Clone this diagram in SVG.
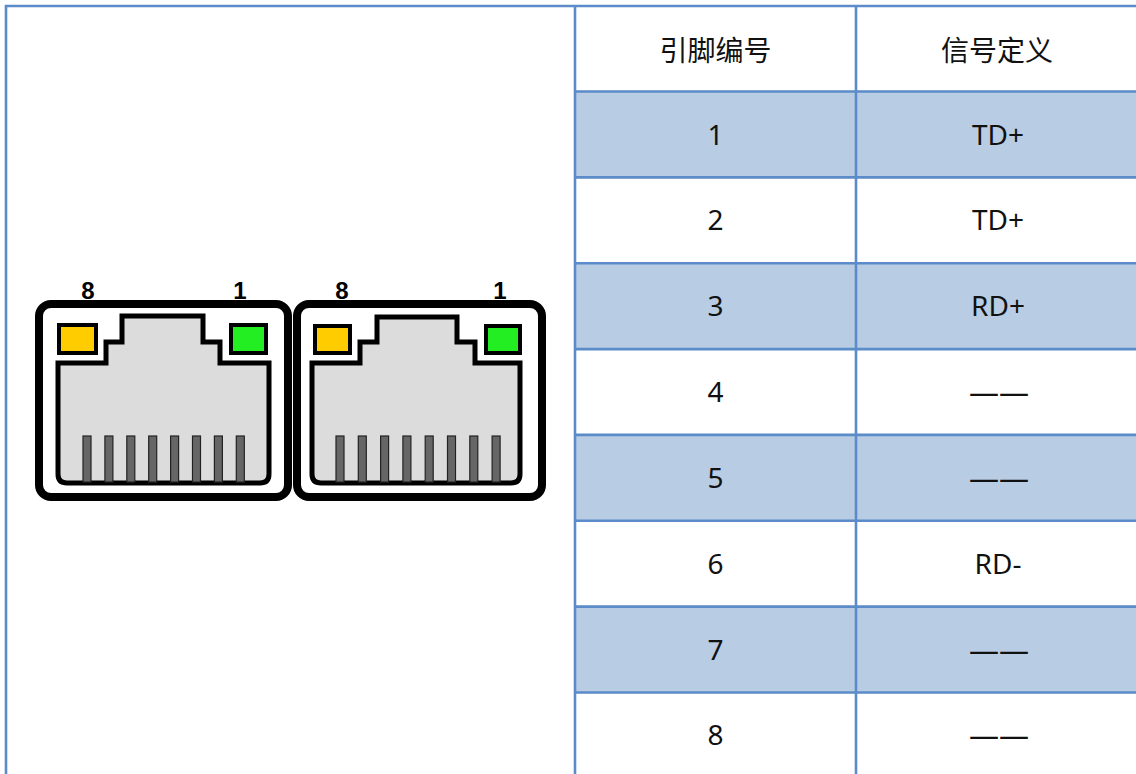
<svg xmlns="http://www.w3.org/2000/svg" width="1136" height="774" viewBox="0 0 1136 774">
<style>
.grid{stroke:#5b8bc8;stroke-width:2.6;fill:none}
.band{fill:#b8cce4}
.t{font-family:"Noto Sans","Noto Sans CJK SC",sans-serif;font-size:28px;fill:#111;text-anchor:middle}
.pn{font-family:"Liberation Sans",Arial,sans-serif;font-weight:bold;font-size:24px;fill:#000;text-anchor:middle}
.shell{fill:#fff;stroke:#000;stroke-width:8}
.body{fill:#dcdcdc;stroke:#000;stroke-width:5;stroke-linejoin:miter}
.ly{fill:#ffcc00;stroke:#000;stroke-width:4}
.lg{fill:#22ee22;stroke:#000;stroke-width:4}
.pin{fill:#666;stroke:#222;stroke-width:1.2}
</style>
<rect width="1136" height="774" fill="#fff"/>
<g id="table">
<rect class="band" x="575" y="91.5" width="561" height="85.9"/>
<rect class="band" x="575" y="263.2" width="561" height="85.9"/>
<rect class="band" x="575" y="434.9" width="561" height="85.9"/>
<rect class="band" x="575" y="606.6" width="561" height="85.9"/>
<path class="grid" d="M4.7 6H1136M6 4.7V774M575 6V774M856 6V774M575 91.5H1136M575 177.4H1136M575 263.2H1136M575 349.1H1136M575 434.9H1136M575 520.8H1136M575 606.6H1136M575 692.5H1136"/>
<text class="t" x="715.5" y="61">引脚编号</text>
<text class="t" x="997" y="61">信号定义</text>
<text class="t" x="715.5" y="144.5">1</text><text class="t" x="998" y="144.5">TD+</text>
<text class="t" x="715.5" y="230.3">2</text><text class="t" x="998" y="230.3">TD+</text>
<text class="t" x="715.5" y="316.2">3</text><text class="t" x="998" y="316.2">RD+</text>
<text class="t" x="715.5" y="402">4</text><text class="t" x="999" y="402" textLength="60" lengthAdjust="spacingAndGlyphs">——</text>
<text class="t" x="715.5" y="487.9">5</text><text class="t" x="999" y="487.9" textLength="60" lengthAdjust="spacingAndGlyphs">——</text>
<text class="t" x="715.5" y="573.7">6</text><text class="t" x="998" y="573.7">RD-</text>
<text class="t" x="715.5" y="659.6">7</text><text class="t" x="999" y="659.6" textLength="60" lengthAdjust="spacingAndGlyphs">——</text>
<text class="t" x="715.5" y="745.4">8</text><text class="t" x="999" y="745.4" textLength="60" lengthAdjust="spacingAndGlyphs">——</text>
</g>
<g id="rj45-1">
<text class="pn" x="88" y="299">8</text>
<text class="pn" x="240" y="299">1</text>
<rect class="shell" x="39" y="304" width="249" height="193" rx="12"/>
<path class="body" d="M58 363H106V342H122V316H203V342H220V363H269V474Q269 483 260 483H67Q58 483 58 474Z"/>
<rect class="ly" x="59" y="325" width="37" height="28"/>
<rect class="lg" x="231" y="325" width="35" height="28"/>
<rect class="pin" x="83" y="436" width="8" height="46"/>
<rect class="pin" x="104.9" y="436" width="8" height="46"/>
<rect class="pin" x="126.8" y="436" width="8" height="46"/>
<rect class="pin" x="148.7" y="436" width="8" height="46"/>
<rect class="pin" x="170.6" y="436" width="8" height="46"/>
<rect class="pin" x="192.5" y="436" width="8" height="46"/>
<rect class="pin" x="214.4" y="436" width="8" height="46"/>
<rect class="pin" x="236.3" y="436" width="8" height="46"/>
</g>
<g id="rj45-2">
<text class="pn" x="342" y="299">8</text>
<text class="pn" x="500" y="299">1</text>
<rect class="shell" x="297" y="304" width="245" height="193" rx="12"/>
<path class="body" d="M312 363H360V342H377V317H457V342H475V363H520V474Q520 483 511 483H321Q312 483 312 474Z"/>
<rect class="ly" x="315" y="326" width="35" height="27"/>
<rect class="lg" x="486" y="326" width="34" height="27"/>
<rect class="pin" x="336" y="436" width="8" height="46"/>
<rect class="pin" x="358.3" y="436" width="8" height="46"/>
<rect class="pin" x="380.6" y="436" width="8" height="46"/>
<rect class="pin" x="402.9" y="436" width="8" height="46"/>
<rect class="pin" x="425.2" y="436" width="8" height="46"/>
<rect class="pin" x="447.5" y="436" width="8" height="46"/>
<rect class="pin" x="469.8" y="436" width="8" height="46"/>
<rect class="pin" x="492.1" y="436" width="8" height="46"/>
</g>
</svg>
